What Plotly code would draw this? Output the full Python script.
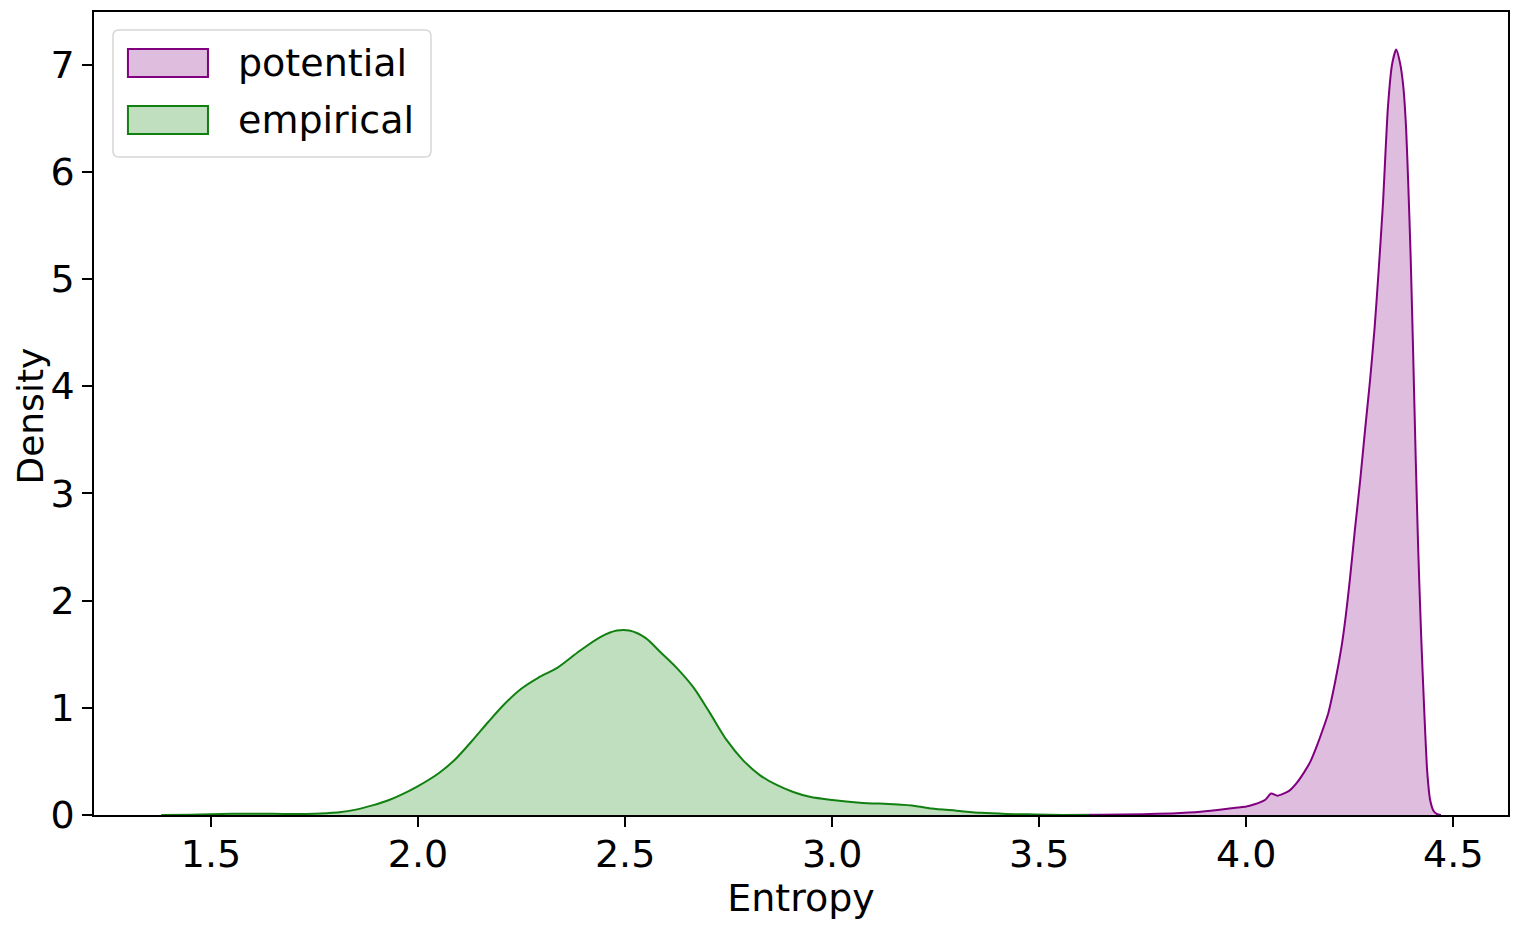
import plotly.graph_objects as go

# KDE curves (entropy vs density)
entropy_potential = [3.55, 3.65, 3.75, 3.82, 3.89, 3.95, 3.98, 4.00, 4.02, 4.045,
                     4.06, 4.075, 4.09, 4.105, 4.12, 4.14, 4.155, 4.17, 4.185, 4.198,
                     4.215, 4.23, 4.24, 4.25, 4.262, 4.275, 4.287, 4.299, 4.31, 4.32,
                     4.33, 4.342, 4.352, 4.362, 4.371, 4.379, 4.386, 4.391, 4.397, 4.403,
                     4.409, 4.415, 4.422, 4.43, 4.437, 4.444, 4.452, 4.46, 4.47]
density_potential = [0.0, 0.003, 0.008, 0.015, 0.03, 0.055, 0.07, 0.08, 0.10, 0.14,
                     0.20, 0.18, 0.20, 0.23, 0.29, 0.40, 0.50, 0.64, 0.80, 0.95,
                     1.25, 1.57, 1.85, 2.19, 2.65, 3.12, 3.6, 4.06, 4.55, 5.1,
                     5.7, 6.6, 7.0, 7.14, 7.02, 6.8, 6.4, 5.9, 5.2, 4.3,
                     3.35, 2.5, 1.7, 0.95, 0.4, 0.14, 0.04, 0.01, 0.0]

entropy_empirical = [1.38, 1.45, 1.50, 1.55, 1.60, 1.65, 1.70, 1.75, 1.78, 1.81,
                     1.85, 1.89, 1.93, 1.96, 2.00, 2.05, 2.09, 2.13, 2.17, 2.21,
                     2.25, 2.29, 2.335, 2.39, 2.44, 2.48, 2.51, 2.55, 2.585, 2.625,
                     2.665, 2.705, 2.745, 2.785, 2.826, 2.866, 2.906, 2.946, 3.00, 3.067,
                     3.148, 3.20, 3.24, 3.30, 3.36, 3.42, 3.49, 3.56, 3.62]
density_empirical = [0.0, 0.003, 0.008, 0.011, 0.012, 0.011, 0.010, 0.012, 0.017, 0.025,
                     0.05, 0.09, 0.14, 0.19, 0.27, 0.39, 0.52, 0.69, 0.87, 1.04,
                     1.18, 1.28, 1.37, 1.53, 1.66, 1.72, 1.72, 1.65, 1.52, 1.37,
                     1.19, 0.95, 0.70, 0.51, 0.37, 0.28, 0.215, 0.17, 0.14, 0.115,
                     0.10, 0.085, 0.06, 0.04, 0.02, 0.01, 0.005, 0.001, 0.0]

series_names = ["potential", "empirical"]
x_ticks = [1.5, 2.0, 2.5, 3.0, 3.5, 4.0, 4.5]
y_ticks = [0, 1, 2, 3, 4, 5, 6, 7]

font = "DejaVu Sans"
line_colors = {"potential": "#800080", "empirical": "#118011"}
fill_colors = {"potential": "rgba(128,0,128,0.26)", "empirical": "rgba(0,128,0,0.25)"}

fig = go.Figure()
fig.add_trace(go.Scatter(
    x=entropy_potential, y=density_potential, name="potential", showlegend=False,
    mode="lines", fill="tozeroy", fillcolor=fill_colors["potential"],
    line=dict(color=line_colors["potential"], width=2, shape="spline", smoothing=0.6),
))
fig.add_trace(go.Scatter(
    x=entropy_empirical, y=density_empirical, name="empirical", showlegend=False,
    mode="lines", fill="tozeroy", fillcolor=fill_colors["empirical"],
    line=dict(color=line_colors["empirical"], width=2, shape="spline", smoothing=0.8),
))

axis_common = dict(
    showline=True, linecolor="black", linewidth=1.6, mirror=True,
    ticks="outside", ticklen=10, tickwidth=1.5, tickcolor="black",
    showgrid=False, zeroline=False, automargin=False,
    tickfont=dict(family=font, size=38, color="black"),
)

fig.update_xaxes(
    range=[1.2175, 4.632], tickvals=x_ticks, ticktext=[f"{t:.1f}" for t in x_ticks],
    ticklabelstandoff=-5,
    title=dict(text="Entropy", font=dict(family=font, size=38, color="black"), standoff=6),
    **axis_common,
)
fig.update_yaxes(range=[0, 7.49], tickvals=y_ticks, **axis_common)

# matplotlib-style legend box (upper left) with patch handles
box_w, box_h = 1414, 803  # plot area size in px, used to turn px offsets into paper units
bx0, bx1, by0, by1 = 0.0134, 0.2383, 0.8194, 0.9776
rx, ry = 6 / box_w, 6 / box_h
box_path = (f"M{bx0+rx},{by0} L{bx1-rx},{by0} Q{bx1},{by0} {bx1},{by0+ry} "
            f"L{bx1},{by1-ry} Q{bx1},{by1} {bx1-rx},{by1} L{bx0+rx},{by1} "
            f"Q{bx0},{by1} {bx0},{by1-ry} L{bx0},{by0+ry} Q{bx0},{by0} {bx0+rx},{by0} Z")
shapes = [dict(type="path", xref="paper", yref="paper", path=box_path,
               fillcolor="rgba(255,255,255,0.8)", line=dict(color="#d6d6d6", width=1.5))]
annotations = []
row_centers = [0.9365, 0.8655]
for name, yc in zip(series_names, row_centers):
    shapes.append(dict(type="rect", xref="paper", yref="paper",
                       x0=0.024, x1=0.0806, y0=yc - 0.0175, y1=yc + 0.0175,
                       fillcolor=fill_colors[name], line=dict(color=line_colors[name], width=2)))
    annotations.append(dict(text=name, xref="paper", yref="paper", x=0.1005, y=yc,
                            xanchor="left", yanchor="middle", showarrow=False,
                            font=dict(family=font, size=38, color="black")))

# y axis title, placed like matplotlib's (close to the tick labels)
annotations.append(dict(text="Density", xref="paper", yref="paper", x=-0.0448, y=0.497,
                        xanchor="center", yanchor="middle", textangle=-90, showarrow=False,
                        font=dict(family=font, size=36, color="black")))

fig.update_layout(
    width=1524, height=933,
    margin=dict(l=86, r=24, t=4, b=126),
    plot_bgcolor="white", paper_bgcolor="white",
    font=dict(family=font, color="black"),
    showlegend=False,
    shapes=shapes, annotations=annotations,
)

fig.write_html("out.html")
